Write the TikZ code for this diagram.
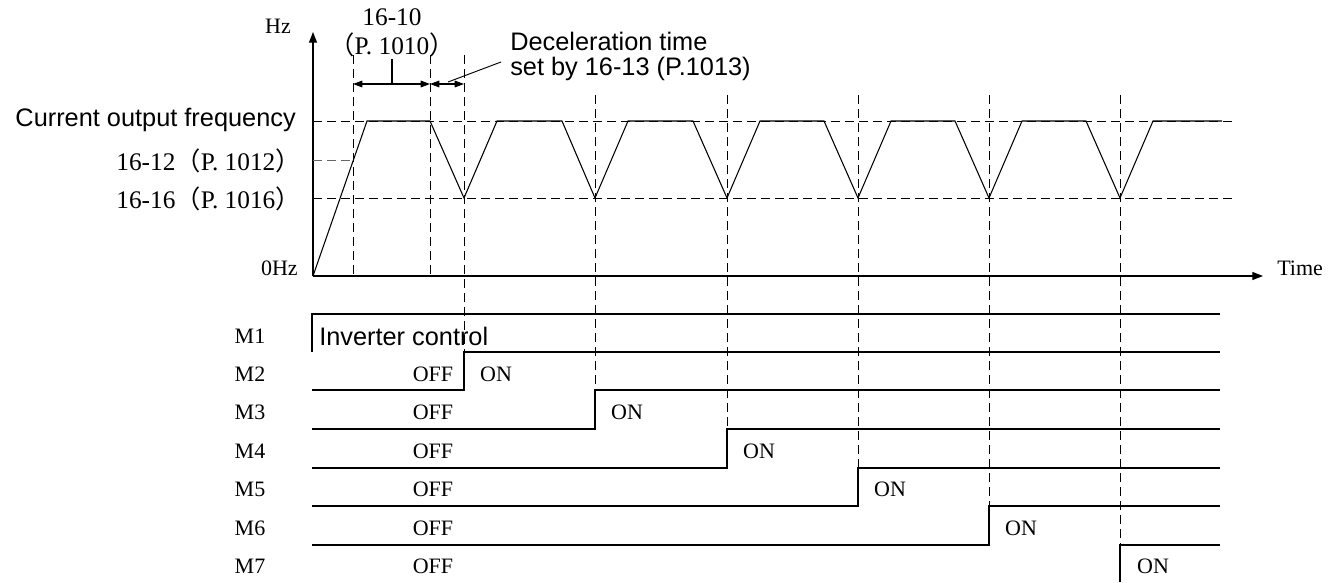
\documentclass[tikz,border=0pt]{standalone}
\usepackage{fontspec}
\setmainfont{Liberation Serif}
\setsansfont{Liberation Sans}
\newfontfamily\cjk{Noto Sans CJK SC}
\usetikzlibrary{arrows.meta}
\tikzset{
  lab/.style={font=\fontsize{16.5}{18}\selectfont, inner sep=0pt},
  lvl/.style={font=\fontsize{19}{21}\selectfont, inner sep=0pt},
  slab/.style={font=\sffamily\fontsize{19}{21}\selectfont, inner sep=0pt},
  sig/.style={line width=0.8pt},
  refl/.style={line width=0.7pt, dash pattern=on 7pt off 3.5pt},
  axis/.style={line width=0.9pt, -{Triangle[length=8pt,width=6pt]}},
  dimarr/.style={line width=0.8pt, {Triangle[length=7pt,width=5pt]}-{Triangle[length=7pt,width=5pt]}},
}
\begin{document}
\begin{tikzpicture}[x=0.75pt,y=-0.75pt]
\useasboundingbox (0,0) rectangle (1338,582);

% axes
\coordinate (O) at (313,276);
\coordinate (ytip) at (313,32);
\coordinate (xtip) at (1263,276);
\draw[axis] (O) -- (ytip);
\draw[axis] (O) -- (xtip);
\node[lab] (hz) at (278,26) {Hz};
\node[lab, anchor=east] (zero) at (298,268) {0Hz};
\node[lab, anchor=west] (time) at (1277,268) {Time};

% level labels
\node[slab, anchor=east] (cur) at (296,120) {Current output frequency};
\node[lvl, anchor=east] (l12) at (301,161) {16-12{\cjk （}P. 1012{\cjk ）}};
\node[lvl, anchor=east] (l16) at (301,199) {16-16{\cjk （}P. 1016{\cjk ）}};

% reference dashed lines
\coordinate (rT0) at (313,121); \coordinate (rT1) at (1235,121);
\coordinate (r160) at (313,198); \coordinate (r161) at (1235,198);
\coordinate (r120) at (313,160); \coordinate (r121) at (353,160);
\draw[refl] (rT0) -- (rT1);
\draw[refl] (r160) -- (r161);
\draw[refl, draw=black!60] (r120) -- (r121);

% vertical dashed lines
\draw[refl] (353,55) -- (353,276);
\draw[refl] (430,55) -- (430,276);
\draw[refl] (464,55) -- (464,352);
\draw[refl] (595,95) -- (595,390);
\draw[refl] (727,95) -- (727,429);
\draw[refl] (858,95) -- (858,468);
\draw[refl] (989,95) -- (989,506);
\draw[refl] (1120,95) -- (1120,545);

% frequency profile
\draw[sig] (O) -- (367,121) -- (430,121) -- (464,198) -- (497,121) -- (562,121)
  -- (595,198) -- (628,121) -- (693,121) -- (727,198) -- (760,121) -- (824,121)
  -- (858,198) -- (891,121) -- (955,121) -- (989,198) -- (1022,121) -- (1086,121)
  -- (1120,198) -- (1153,121) -- (1222,121);

% dimension annotations
\coordinate (d1) at (353,84); \coordinate (d2) at (430,84); \coordinate (d3) at (464,84);
\draw[dimarr] (d1) -- (d2);
\draw[dimarr] (d2) -- (d3);
\coordinate (tk0) at (392,84); \coordinate (tk1) at (392,59);
\draw[sig] (tk0) -- (tk1);
\node[lvl] (p10a) at (392,17) {16-10};
\node[lvl] (p10b) at (392,45) {{\cjk （}P. 1010{\cjk ）}};
\node[slab, anchor=base west] (dec1) at (510,50) {Deceleration time};
\node[slab, anchor=base west] (dec2) at (510,75) {set by 16-13 (P.1013)};
\coordinate (ld0) at (448,82); \coordinate (ld1) at (501,62);
\draw[line width=0.7pt] (ld0) -- (ld1);

% timing rows
\draw[sig] (312,352) -- (312,314) -- (1220,314);
\draw[sig] (312,390) -- (464,390) -- (464,352) -- (1220,352);
\draw[sig] (312,429) -- (595,429) -- (595,390) -- (1220,390);
\draw[sig] (312,468) -- (727,468) -- (727,429) -- (1220,429);
\draw[sig] (312,506) -- (858,506) -- (858,468) -- (1220,468);
\draw[sig] (312,545) -- (989,545) -- (989,506) -- (1220,506);
\draw[sig] (1120,582) -- (1120,545) -- (1220,545);

\node[lab] (m1) at (250,336) {M1};
\node[lab] (m2) at (250,374) {M2};
\node[lab] (m3) at (250,412) {M3};
\node[lab] (m4) at (250,451) {M4};
\node[lab] (m5) at (250,489) {M5};
\node[lab] (m6) at (250,528) {M6};
\node[lab] (m7) at (250,566) {M7};

\node[slab, anchor=west] (inv) at (319,336) {Inverter control};

\node[lab] (off2) at (433,374) {OFF};
\node[lab] (off3) at (433,412) {OFF};
\node[lab] (off4) at (433,451) {OFF};
\node[lab] (off5) at (433,489) {OFF};
\node[lab] (off6) at (433,528) {OFF};
\node[lab] (off7) at (433,566) {OFF};

\node[lab] (on2) at (496,374) {ON};
\node[lab] (on3) at (627,412) {ON};
\node[lab] (on4) at (759,451) {ON};
\node[lab] (on5) at (890,489) {ON};
\node[lab] (on6) at (1021,528) {ON};
\node[lab] (on7) at (1153,566) {ON};
\end{tikzpicture}
\end{document}
